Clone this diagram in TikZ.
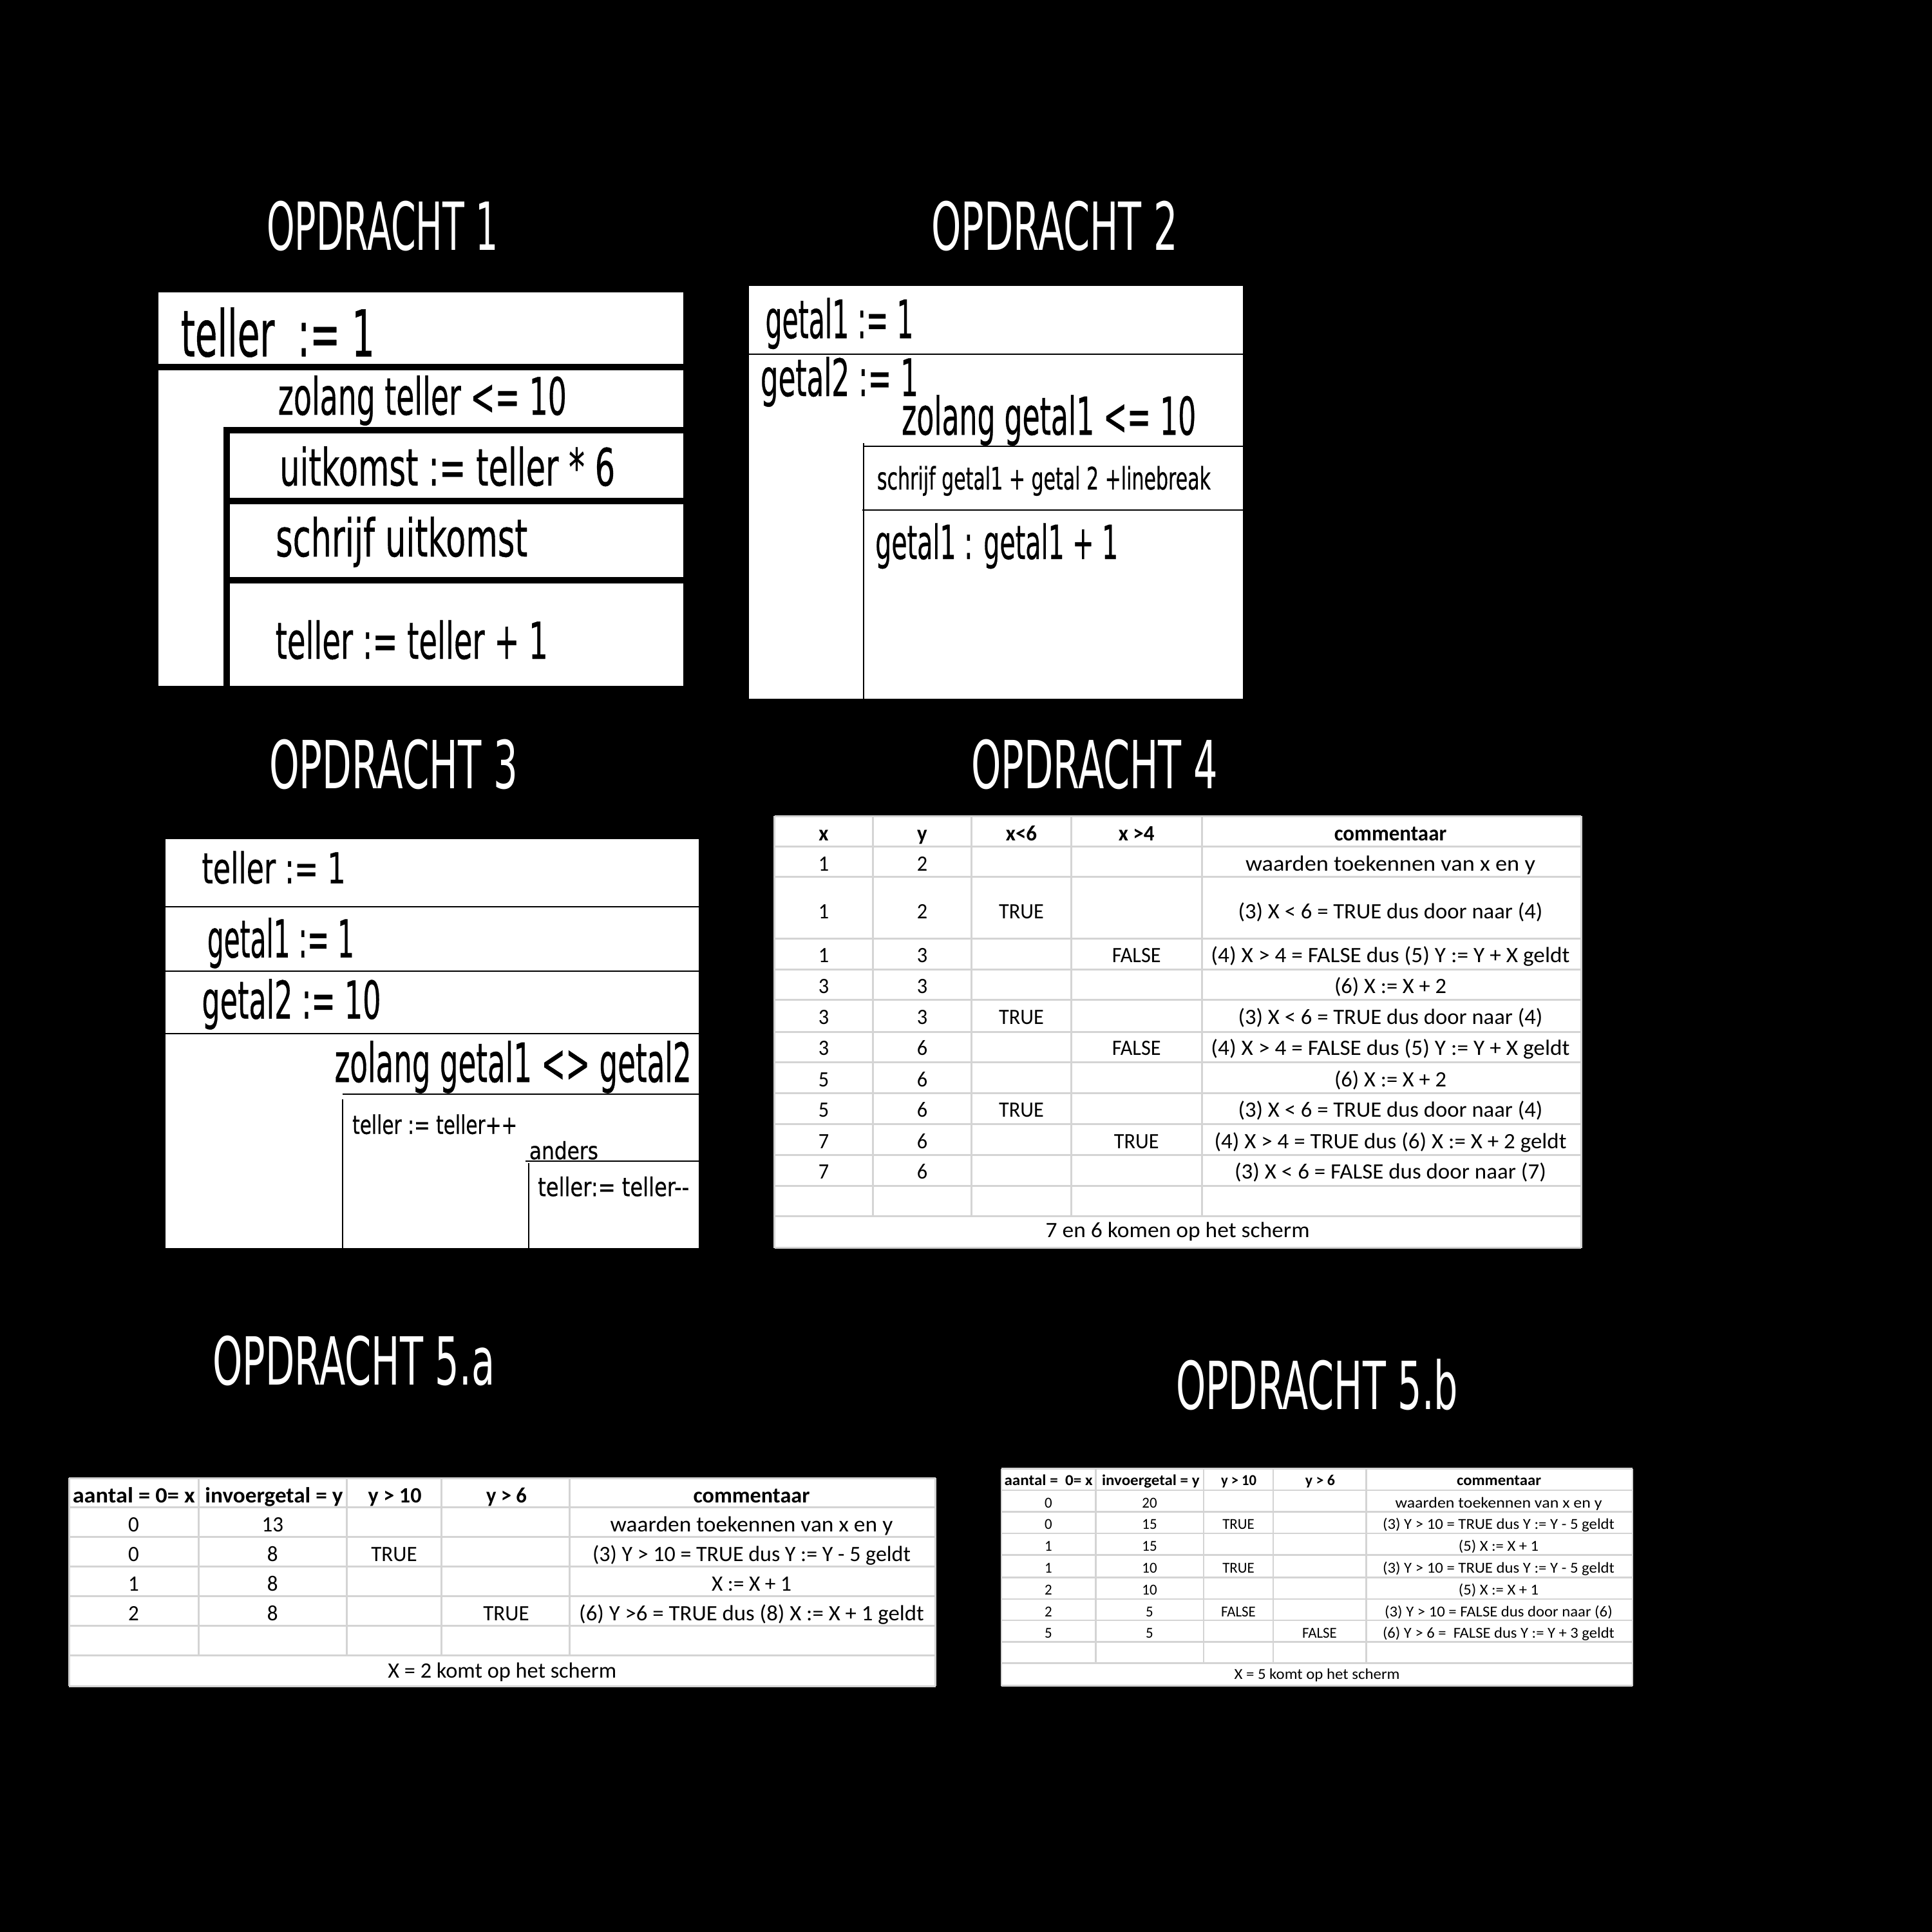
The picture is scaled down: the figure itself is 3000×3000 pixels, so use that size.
\documentclass[tikz,border=0pt]{standalone}
\usepackage{fontspec}
\newfontfamily\agency{DejaVu Sans}
\newfontfamily\agencyb[FakeBold=0.6]{DejaVu Sans}
\newfontfamily\calib{Carlito}
\newcommand\fw[3]{\resizebox{#1pt}{\height}{\fontsize{#2pt}{#2pt}\selectfont #3}}
\newcommand\sx[3]{\scalebox{#1}[1]{\fontsize{#2pt}{#2pt}\selectfont #3}}
\definecolor{gridgray}{RGB}{212,212,212}
\tikzset{
  ag/.style={anchor=base west, inner sep=0pt, font=\agencyb, text=black},
  ttl/.style={anchor=base west, inner sep=0pt, font=\agency, text=white},
  tc/.style={anchor=base, inner sep=0pt, font=\calib, text=black},
  th/.style={anchor=base, inner sep=0pt, font=\calib\bfseries, text=black},
  band/.style={fill=black},
  thin/.style={draw=black, line width=2pt},
  gridl/.style={draw=gridgray, line width=#1},
}
\begin{document}
\begin{tikzpicture}[x=1pt,y=-1pt]
\useasboundingbox (0,0) rectangle (3000,3000);
\fill[black] (0,0) rectangle (3000,3000);

% ---------- titles ----------
\node[ttl] (t1) at (414,388.3) {\fw{360}{103}{OPDRACHT 1}};
\node[ttl] (t2) at (1446,388.3) {\fw{383}{103}{OPDRACHT 2}};
\node[ttl] (t3) at (418,1224) {\fw{386}{103}{OPDRACHT 3}};
\node[ttl] (t4) at (1508,1224) {\fw{383}{103}{OPDRACHT 4}};
\node[ttl] (t5a) at (330,2150) {\fw{438}{103}{OPDRACHT 5.a}};
\node[ttl] (t5b) at (1826,2188) {\fw{438}{103}{OPDRACHT 5.b}};

% ---------- opdracht 1 ----------
\fill[white] (246,454) rectangle (1061,1065);
\fill[band] (246,565) rectangle (1061,575);
\fill[band] (347.3,663.3) rectangle (1061,673.3);
\fill[band] (347.3,663.3) rectangle (356.7,1065);
\fill[band] (356.7,773.3) rectangle (1061,783.3);
\fill[band] (356.7,896) rectangle (1061,906);
\node[ag] (a1) at (280.7,553.3) {\fw{301}{100}{teller~~:= 1}};
\node[ag] (a2) at (431.7,644) {\fw{448}{80}{zolang teller <= 10}};
\node[ag] (a3) at (434,754) {\fw{521}{80}{uitkomst := teller * 6}};
\node[ag] (a4) at (428,864) {\fw{391}{81}{schrijf uitkomst}};
\node[ag] (a5) at (427.5,1023) {\fw{423}{79}{teller := teller + 1}};

% ---------- opdracht 2 ----------
\fill[white] (1163,444) rectangle (1930,1084.5);
\draw[thin] (1163,550) -- (1930,550);
\draw[thin] (1340.7,688) -- (1340.7,1084.5);
\draw[thin] (1340.7,692.7) -- (1930,692.7);
\draw[thin] (1339,791.7) -- (1930,791.7);
\node[ag] (b1) at (1188.3,525) {\fw{230}{82}{getal1 := 1}};
\node[ag] (b2) at (1180.7,615) {\fw{245}{80}{getal2 := 1}};
\node[ag] (b3) at (1400,675) {\fw{457}{81}{zolang getal1 <= 10}};
\node[ag] (b4) at (1361.7,760) {\fw{518}{48}{schrijf getal1 + getal 2 +linebreak}};
\node[ag] (b5) at (1359,868) {\fw{377}{73}{getal1 : getal1 + 1}};

% ---------- opdracht 3 ----------
\fill[white] (256.7,1303.3) rectangle (1085,1937.7);
\draw[thin] (256.7,1408.3) -- (1085,1408.3);
\draw[thin] (256.7,1508.3) -- (1085,1508.3);
\draw[thin] (256.7,1605) -- (1085,1605);
\draw[thin] (531.7,1698.8) -- (1085,1698.8);
\draw[thin] (531.5,1707) -- (531.5,1937.7);
\draw[thin] (816,1803.3) -- (1085,1803.3);
\draw[thin] (820.7,1806) -- (820.7,1937.7);
\node[ag] (c1) at (313.3,1371.7) {\fw{223}{66}{teller := 1}};
\node[ag] (c2) at (321.7,1486.7) {\fw{228}{81}{getal1 := 1}};
\node[ag] (c3) at (313.3,1581.7) {\fw{278}{81}{getal2 := 10}};
\node[ag] (c4) at (519.4,1680) {\fw{554}{84}{zolang getal1 <> getal2}};
\node[ag] (c5) at (547,1760.7) {\fw{256}{40}{teller := teller++}};
\node[ag] (c6) at (821.7,1800) {\fw{107}{37}{anders}};
\node[ag] (c7) at (835,1857.3) {\fw{235}{40}{teller:= teller-{}-}};

% ---------- opdracht 4 table ----------
\fill[white] (1202.5,1267) rectangle (2455.3,1937.5);
\foreach \yy in {1267,1314.7,1361.6,1457.6,1505.3,1552.7,1602.7,1649.5,1697.7,1745.5,1793.7,1841.5,1888.4,1937.5}
  \draw[gridl=3pt] (1202.5,\yy) -- (2455.3,\yy);
\foreach \xx in {1355.7,1508.4,1663.5,1866}
  \draw[gridl=3pt] (\xx,1267) -- (\xx,1888.4);
\draw[gridl=3pt] (1202.5,1267) -- (1202.5,1937.5);
\draw[gridl=3pt] (2455.3,1267) -- (2455.3,1937.5);
\node[th] (h41) at (1279,1305.8) {\sx{0.97}{34}{x}};
\node[th] (h42) at (1432,1305.8) {\sx{0.97}{34}{y}};
\node[th] (h43) at (1586,1305.8) {\sx{0.97}{34}{x<6}};
\node[th] (h44) at (1764.7,1305.8) {\sx{0.97}{34}{x >4}};
\node[th] (h45) at (2159,1305.8) {\sx{0.97}{34}{commentaar}};
\foreach \yy/\a/\b [count=\i] in {1352.7/1/2,1426.3/1/2,1494.6/1/3,1542.4/3/3,1590.2/3/3,1638.4/3/6,1687.5/5/6,1734.3/5/6,1783.4/7/6,1830.3/7/6}{
  \node[tc] (qx\i) at (1279,\yy) {\sx{0.95}{34}{\a}};
  \node[tc] (qy\i) at (1432,\yy) {\sx{0.95}{34}{\b}};
}
\node[tc] (qt1) at (1586,1426.3) {\sx{0.95}{34}{TRUE}};
\node[tc] (qt2) at (1586,1590.2) {\sx{0.95}{34}{TRUE}};
\node[tc] (qt3) at (1586,1734.3) {\sx{0.95}{34}{TRUE}};
\node[tc] (qf1) at (1764.7,1494.6) {\sx{0.95}{34}{FALSE}};
\node[tc] (qf2) at (1764.7,1638.4) {\sx{0.95}{34}{FALSE}};
\node[tc] (qf3) at (1764.7,1783.4) {\sx{0.95}{34}{TRUE}};
\foreach \yy/\w/\t [count=\i] in {
  1352.7/450/waarden toekennen van x en y,
  1426.3/473/(3) X < 6 = TRUE dus door naar (4),
  1494.6/557/(4) X > 4 = FALSE dus (5) Y := Y + X geldt,
  1542.4/174/(6) X := X + 2,
  1590.2/473/(3) X < 6 = TRUE dus door naar (4),
  1638.4/557/(4) X > 4 = FALSE dus (5) Y := Y + X geldt,
  1687.5/174/(6) X := X + 2,
  1734.3/473/(3) X < 6 = TRUE dus door naar (4),
  1783.4/547/(4) X > 4 = TRUE dus (6) X := X + 2 geldt,
  1830.3/484/(3) X < 6 = FALSE dus door naar (7)}{
  \node[tc] (qc\i) at (2159,\yy) {\fw{\w}{34}{\t}};
}
\node[tc] (q4foot) at (1828.6,1921.8) {\fw{410}{34}{7 en 6 komen op het scherm}};

% ---------- opdracht 5a table ----------
\fill[white] (107,2295) rectangle (1452.5,2618.3);
\foreach \yy in {2295,2340.7,2386.7,2432.7,2478.3,2524.3,2570,2618.3}
  \draw[gridl=3pt] (107,\yy) -- (1452.5,\yy);
\foreach \xx in {308,538.6,685.4,884.6}
  \draw[gridl=3pt] (\xx,2295) -- (\xx,2570);
\draw[gridl=3pt] (107,2295) -- (107,2618.3);
\draw[gridl=3pt] (1452.5,2295) -- (1452.5,2618.3);
\node[th] (h51) at (207.8,2333.3) {\fw{190}{34}{aantal = 0= x}};
\node[th] (h52) at (425.5,2333.3) {\fw{214}{34}{invoergetal = y}};
\node[th] (h53) at (613,2333.3) {\fw{83}{34}{y > 10}};
\node[th] (h54) at (786.5,2333.3) {\fw{63}{34}{y > 6}};
\node[th] (h55) at (1167,2333.3) {\fw{181}{34}{commentaar}};
\foreach \yy/\a/\b [count=\i] in {2378.3/0/13,2424/0/8,2470/1/8,2516/2/8}{
  \node[tc] (rx\i) at (207.5,\yy) {\sx{0.97}{34}{\a}};
  \node[tc] (ry\i) at (423.3,\yy) {\sx{0.97}{34}{\b}};
}
\node[tc] (rt1) at (612,2424) {\sx{0.97}{34}{TRUE}};
\node[tc] (rt2) at (786,2516) {\sx{0.97}{34}{TRUE}};
\node[tc] (rc1) at (1167,2378.3) {\fw{438.6}{34}{waarden toekennen van x en y}};
\node[tc] (rc2) at (1167,2424) {\fw{494}{34}{(3) Y > 10 = TRUE dus Y := Y - 5 geldt}};
\node[tc] (rc3) at (1167,2470) {\fw{124}{34}{X := X + 1}};
\node[tc] (rc4) at (1167,2516) {\fw{535.6}{34}{(6) Y >6 = TRUE dus (8) X := X + 1 geldt}};
\node[tc] (r5foot) at (779.8,2605) {\fw{354.8}{34}{X = 2 komt op het scherm}};

% ---------- opdracht 5b table ----------
\fill[white] (1555,2280.6) rectangle (2535,2617.7);
\foreach \yy in {2280.6,2313.9,2347.5,2380.8,2414.7,2449.7,2482.9,2516.2,2549.5,2582.7,2617.7}
  \draw[gridl=2.5pt] (1555,\yy) -- (2535,\yy);
\foreach \xx in {1701.5,1868.9,1976.8,2121.4}
  \draw[gridl=2.5pt] (\xx,2280.6) -- (\xx,2582.7);
\draw[gridl=2.5pt] (1555,2280.6) -- (1555,2617.7);
\draw[gridl=2.5pt] (2535,2280.6) -- (2535,2617.7);
\node[th] (h61) at (1628,2306.6) {\fw{137}{23.6}{aantal =~~0= x}};
\node[th] (h62) at (1786.8,2306.6) {\fw{151.5}{23.6}{invoergetal = y}};
\node[th] (h63) at (1923.5,2306.6) {\fw{55}{23.6}{y > 10}};
\node[th] (h64) at (2049.8,2306.6) {\fw{46}{23.6}{y > 6}};
\node[th] (h65) at (2327.5,2306.6) {\fw{131}{23.6}{commentaar}};
\foreach \yy/\a/\b [count=\i] in {2341.2/0/20,2374.7/0/15,2408.3/1/15,2442.7/1/10,2476.8/2/10,2510.1/2/5,2543.4/5/5}{
  \node[tc] (sx\i) at (1628,\yy) {\sx{0.97}{23.6}{\a}};
  \node[tc] (sy\i) at (1785,\yy) {\sx{0.97}{23.6}{\b}};
}
\node[tc] (st1) at (1923,2374.7) {\sx{0.97}{23.6}{TRUE}};
\node[tc] (st2) at (1923,2442.7) {\sx{0.97}{23.6}{TRUE}};
\node[tc] (sf1) at (1923,2510.1) {\sx{0.97}{23.6}{FALSE}};
\node[tc] (sf2) at (2049,2543.4) {\sx{0.97}{23.6}{FALSE}};
\node[tc] (sc1) at (2327,2341.2) {\fw{321}{23.6}{waarden toekennen van x en y}};
\node[tc] (sc2) at (2327,2374.7) {\fw{360}{23.6}{(3) Y > 10 = TRUE dus Y := Y - 5 geldt}};
\node[tc] (sc3) at (2327,2408.3) {\fw{124.4}{23.6}{(5) X := X + 1}};
\node[tc] (sc4) at (2327,2442.7) {\fw{360}{23.6}{(3) Y > 10 = TRUE dus Y := Y - 5 geldt}};
\node[tc] (sc5) at (2327,2476.8) {\fw{124.4}{23.6}{(5) X := X + 1}};
\node[tc] (sc6) at (2327,2510.1) {\fw{353.6}{23.6}{(3) Y > 10 = FALSE dus door naar (6)}};
\node[tc] (sc7) at (2327,2543.4) {\fw{360}{23.6}{(6) Y > 6 =~~FALSE dus Y := Y + 3 geldt}};
\node[tc] (s5foot) at (2045,2607.7) {\fw{257}{23.6}{X = 5 komt op het scherm}};
\end{tikzpicture}
\end{document}
